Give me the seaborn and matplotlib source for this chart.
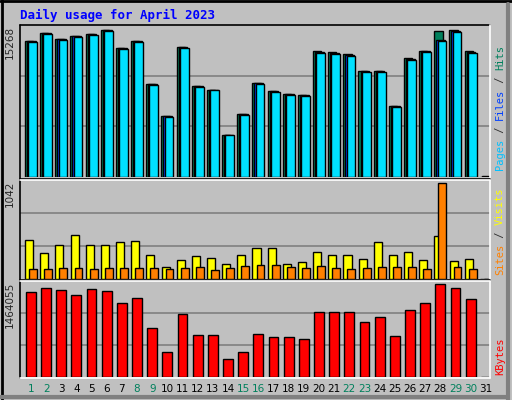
import numpy as np
import pandas as pd
import matplotlib
matplotlib.use("Agg")
import matplotlib.pyplot as plt
import seaborn as sns

days = list(range(1, 32))
hits = [14130, 14958, 14337, 14648, 14854, 15268, 13407, 14130, 9685, 6376,
        13510, 9478, 8996, 4412, 6583, 9788, 8961, 8651, 8547, 13097,
        12994, 12787, 11029, 11029, 7410, 12373, 13097, 15165, 15268, 13097, 0]
pages = [14030, 14858, 14237, 14548, 14754, 15168, 13307, 14030, 9585, 6276,
         13410, 9378, 8996, 4312, 6483, 9688, 8861, 8551, 8447, 12897,
         12794, 12587, 10929, 10929, 7310, 12173, 12997, 14130, 15061, 12897, 0]
files = [p + 60 for p in pages]
visits = [421, 278, 369, 482, 369, 369, 403, 414, 256, 128,
          211, 245, 233, 166, 256, 335, 335, 166, 188, 290,
          256, 256, 222, 403, 256, 290, 211, 470, 199, 222, 0]
sites = [105, 105, 117, 117, 105, 117, 117, 117, 117, 105,
         117, 128, 94, 117, 139, 150, 150, 128, 117, 139,
         117, 105, 117, 128, 128, 128, 105, 1042, 128, 105, 0]
kbytes = [1335816, 1399935, 1367876, 1303757, 1383906, 1351846, 1175518, 1255666, 774773, 390057,
          999190, 662566, 662566, 277849, 390057, 678596, 630504, 630504, 598444, 1031249,
          1031249, 1031249, 870951, 951101, 646536, 1063308, 1175518, 1464055, 1399935, 1239637, 0]
weekend = [1, 2, 8, 9, 15, 16, 22, 23, 29, 30]

df = pd.DataFrame({"day": days, "hits": hits, "files": files, "pages": pages,
                   "visits": visits, "sites": sites, "kbytes": kbytes})

sns.set_theme(style="white")
plt.rcParams["font.family"] = ["DejaVu Sans Mono"]
grey = "#C0C0C0"
fig = plt.figure(figsize=(5.12, 4.0), dpi=100, facecolor=grey)

W, H = 512, 400
def box(y0, y1):
    return fig.add_axes([20 / W, 1 - y1 / H, 470 / W, (y1 - y0) / H])

ax1 = box(25, 177)
ax2 = box(180, 279)
ax3 = box(281, 377)

def bars(ax, col, off, width, color):
    sns.barplot(data=df.assign(x=df["day"] + off), x="x", y=col, native_scale=True,
                width=width, color=color, edgecolor="black", linewidth=1,
                saturation=1, ax=ax, zorder=3)

bars(ax1, "hits", 0.1, 0.55, "#00805C")
bars(ax1, "files", 0.25, 0.58, "#0040FF")
bars(ax1, "pages", 0.33, 0.58, "#00E0FF")
bars(ax2, "visits", 0.1, 0.53, "#FFFF00")
bars(ax2, "sites", 0.36, 0.52, "#FF8000")
bars(ax3, "kbytes", 0.22, 0.65, "#FF0000")

tops = [(ax1, 15268 / 0.967), (ax2, 1042 / 0.97), (ax3, 1464055 / 0.965)]
for ax, top in tops:
    ax.set_facecolor(grey)
    ax.set_xlim(0.5, 31.5)
    ax.set_ylim(0, top)
    for f in (1 / 3, 2 / 3):
        ax.axhline(top * f, color="#808080", lw=1.2, zorder=1)
    ax.set_xticks([])
    ax.set_yticks([])
    ax.set_xlabel("")
    ax.set_ylabel("")
    for s in ax.spines.values():
        s.set_visible(False)

# panel frames: black top/left, white bottom/right
fig.add_artist(plt.Line2D([20 / W, 490 / W], [1 - 25 / H] * 2, color="black", lw=1.2))
fig.add_artist(plt.Line2D([20 / W] * 2, [1 - 25 / H, 1 - 378 / H], color="black", lw=1.2))
fig.add_artist(plt.Line2D([490 / W] * 2, [1 - 25 / H, 1 - 378 / H], color="white", lw=1.2))
fig.add_artist(plt.Line2D([20 / W, 490 / W], [1 - 378 / H] * 2, color="white", lw=1.2))
for y in (179, 280):
    fig.add_artist(plt.Line2D([20 / W, 490 / W], [1 - y / H] * 2, color="black", lw=1.2))
    fig.add_artist(plt.Line2D([20 / W, 490 / W], [1 - (y + 1) / H] * 2, color="white", lw=1.2))
# outer bevel
fig.add_artist(plt.Line2D([0, 1], [0.997, 0.997], color="black", lw=2))
fig.add_artist(plt.Line2D([0.003, 0.003], [0, 1], color="black", lw=2))
fig.add_artist(plt.Line2D([0.993, 0.993], [0, 0.99], color="#808080", lw=3))
fig.add_artist(plt.Line2D([0.0, 0.993], [0.007, 0.007], color="#808080", lw=3))

fig.text(20 / W, 1 - 15 / H, "Daily usage for April 2023", color="#0000FF",
         fontsize=9, fontweight="bold", va="center")

for d in days:
    fig.text((20 + (d + 0.22 - 0.5) * 470 / 31) / W, 1 - 389 / H, str(d),
             color="#00805C" if d in weekend else "black", fontsize=7.5,
             ha="center", va="center", family="DejaVu Sans")

for y, t in [(26, "15268"), (181, "1042"), (282, "1464055")]:
    fig.text(10 / W, 1 - y / H, t, rotation=90, fontsize=7.5, ha="center",
             va="top", family="DejaVu Sans")

def side(y_bottom, parts):
    y = 1 - y_bottom / H
    for t, c in parts:
        txt = fig.text(500 / W, y, t, rotation=90, color=c, fontsize=7.5,
                       ha="center", va="bottom")
        fig.canvas.draw()
        bb = txt.get_window_extent()
        y += bb.height / H

side(170, [("Pages", "#00C0FF"), (" / ", "#303030"), ("Files", "#0040FF"),
           (" / ", "#303030"), ("Hits", "#00805C")])
side(275, [("Sites", "#FF8000"), (" / ", "#303030"), ("Visits", "#FFFF00")])
side(375, [("KBytes", "#FF0000")])

fig.savefig("out.png", dpi=100, facecolor=grey)
